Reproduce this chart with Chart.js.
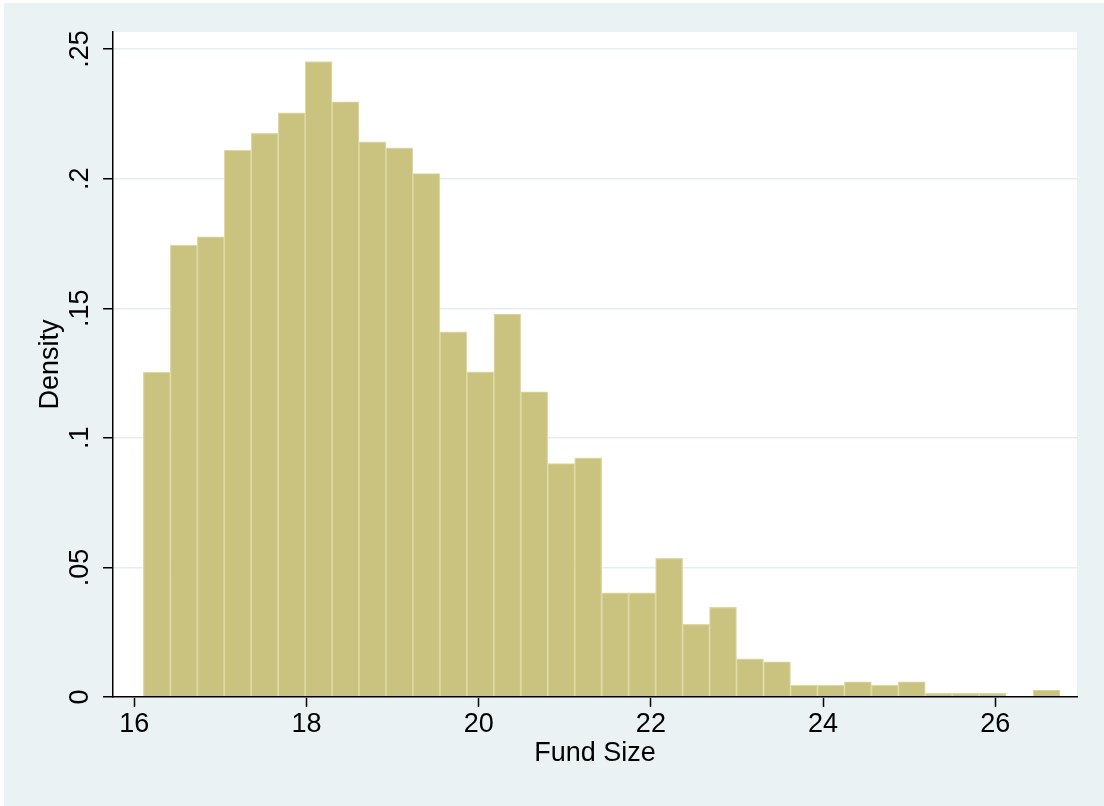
<!DOCTYPE html>
<html>
<head>
<meta charset="utf-8">
<script src="https://cdn.jsdelivr.net/npm/chart.js@4.4.1/dist/chart.umd.min.js"></script>
<style>
  html, body { margin: 0; padding: 0; background: #ffffff; }
  #wrap { width: 1104px; height: 806px; }
</style>
</head>
<body>
<div id="wrap"><canvas id="hist" width="1104" height="806"></canvas></div>
<script>
// bin midpoints (Fund Size) and histogram densities
const binCenters = [16.262, 16.575, 16.888, 17.201, 17.514, 17.828, 18.141, 18.454, 18.767, 19.080,
                    19.393, 19.707, 20.020, 20.333, 20.646, 20.959, 21.272, 21.586, 21.899, 22.212,
                    22.525, 22.838, 23.151, 23.465, 23.778, 24.091, 24.404, 24.717, 25.030, 25.344,
                    25.657, 25.970, 26.283, 26.596];
const densities = [0.1254, 0.1744, 0.1776, 0.2110, 0.2175, 0.2254, 0.2452, 0.2297, 0.2142, 0.2119,
                   0.2020, 0.1409, 0.1255, 0.1478, 0.1178, 0.0901, 0.0923, 0.0402, 0.0402, 0.0535,
                   0.0280, 0.0346, 0.0147, 0.0136, 0.0046, 0.0046, 0.0059, 0.0046, 0.0059, 0.0014,
                   0.0014, 0.0014, 0, 0.0027];
const xTicks = [16, 18, 20, 22, 24, 26];
const yTicks = [0, 0.05, 0.1, 0.15, 0.2, 0.25];
const yTickLabels = ['0', '.05', '.1', '.15', '.2', '.25'];

const FONT = 'Liberation Sans, Arial, sans-serif';
const BG = '#eaf2f3';

const backdrop = {
    id: 'backdrop',
    beforeDraw(chart) {
        const {ctx, chartArea: a} = chart;
        ctx.save();
        ctx.fillStyle = BG;
        ctx.fillRect(4, 3, chart.width - 4, chart.height - 3);
        ctx.fillStyle = '#ffffff';
        ctx.fillRect(a.left, a.top, a.right - a.left, a.bottom - a.top);
        ctx.restore();
    }
};

new Chart(document.getElementById('hist'), {
    type: 'bar',
    data: {
        datasets: [{
            data: binCenters.map((x, i) => ({x: x, y: densities[i]})),
            backgroundColor: 'rgb(202,195,128)',
            borderColor: 'rgb(222,216,163)',
            borderWidth: ctx => (ctx.raw && ctx.raw.y > 0 ? 1.2 : 0),
            borderSkipped: 'start',
            barPercentage: 1,
            categoryPercentage: 1
        }]
    },
    options: {
        responsive: false,
        devicePixelRatio: 1,
        animation: false,
        layout: { padding: { left: 0, right: 27, top: 32, bottom: 0 } },
        plugins: { legend: { display: false }, tooltip: { enabled: false } },
        scales: {
            x: {
                type: 'linear',
                offset: false,
                min: 15.753,
                max: 26.949,
                afterBuildTicks: s => { s.ticks = xTicks.map(v => ({value: v})); },
                afterFit: s => { s.height = 109; },
                grid: { offset: false, drawOnChartArea: false, drawTicks: true, tickLength: 10, tickColor: '#000', tickWidth: 1.5 },
                border: { color: '#000', width: 1.5, z: 1 },
                ticks: { color: '#000', font: { family: FONT, size: 27 }, padding: 1, maxRotation: 0, autoSkip: false },
                title: { display: true, text: 'Fund Size', color: '#000', font: { family: FONT, size: 27 }, padding: { top: 0, bottom: 36 } }
            },
            y: {
                min: 0,
                max: 0.2566,
                afterBuildTicks: s => { s.ticks = yTicks.map(v => ({value: v})); },
                afterFit: s => { s.width = 113; },
                grid: { color: '#e4edef', lineWidth: 1.5, drawTicks: true, tickLength: 10, tickColor: '#000', tickWidth: 1.5 },
                border: { color: '#000', width: 1.5, z: 1 },
                ticks: {
                    color: '#000', font: { family: FONT, size: 27 }, padding: 3.6,
                    minRotation: 90, maxRotation: 90, crossAlign: 'center', autoSkip: false,
                    callback: (v, i) => yTickLabels[i]
                },
                title: { display: true, text: 'Density', color: '#000', font: { family: FONT, size: 27 }, padding: { top: 34, bottom: 0 } }
            }
        }
    },
    plugins: [backdrop]
});
</script>
</body>
</html>
